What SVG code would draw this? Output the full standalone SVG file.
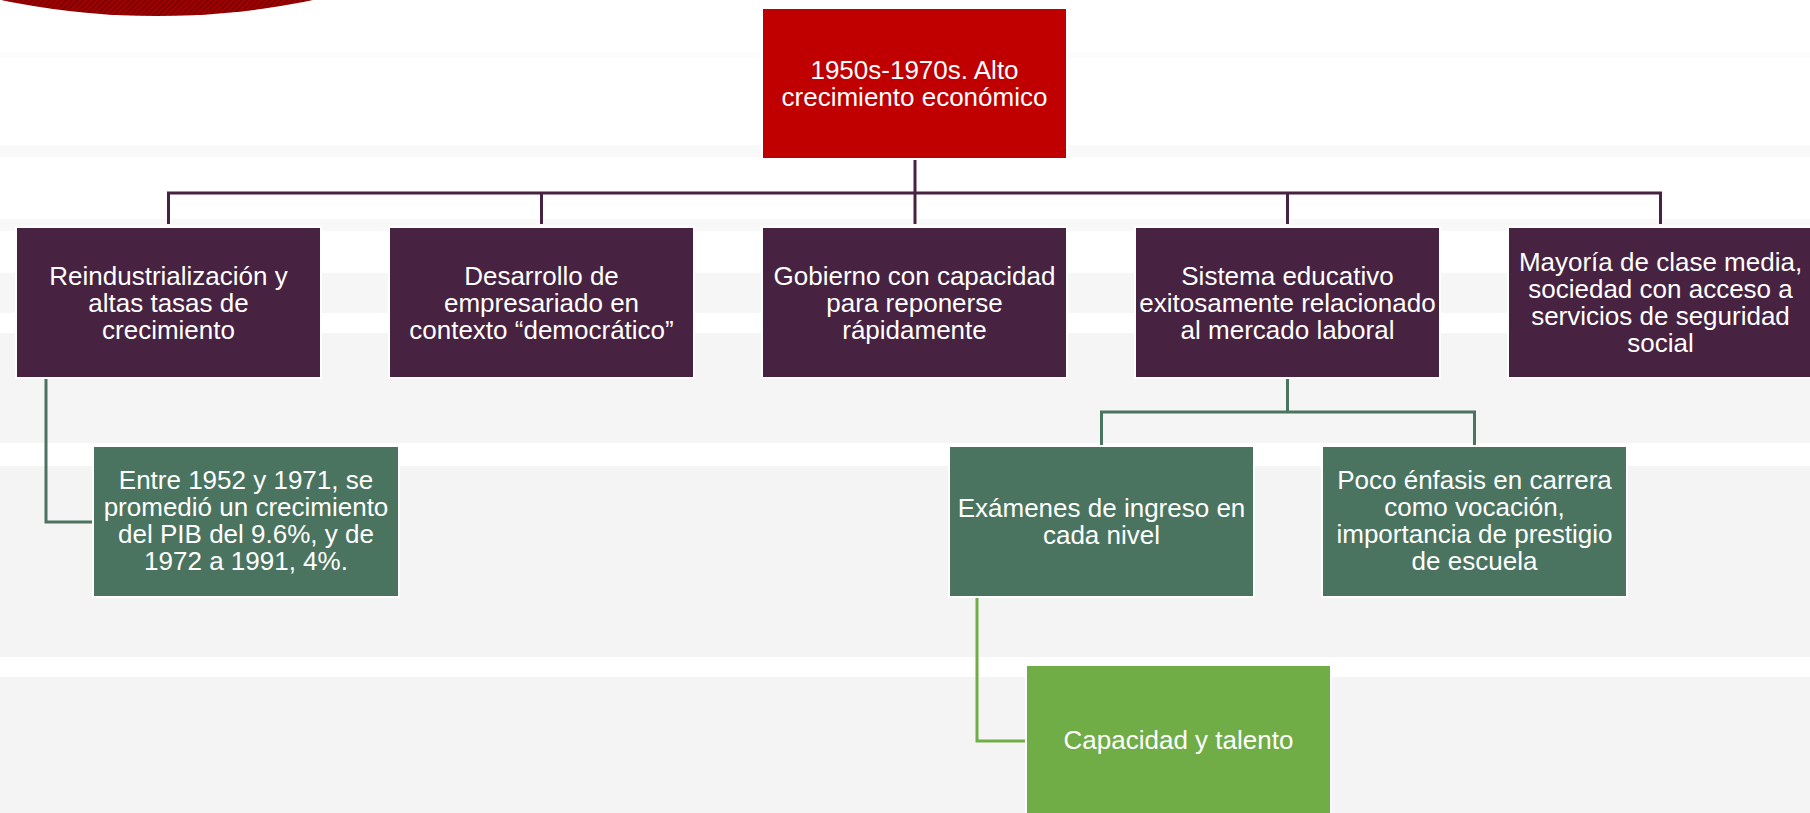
<svg xmlns="http://www.w3.org/2000/svg" width="1810" height="813" viewBox="0 0 1810 813">
<defs>
<pattern id="hatch" width="4" height="4" patternUnits="userSpaceOnUse" patternTransform="rotate(45)">
<rect width="4" height="4" fill="#7d0000"/>
<rect width="2" height="4" fill="#a50000"/>
</pattern>
<style>
.t{font-family:"Liberation Sans",Arial,sans-serif;font-size:26px;fill:#ffffff;text-anchor:middle}
.red{fill:#c00000;stroke:#ffffff;stroke-width:2}
.pur{fill:#472341;stroke:#ffffff;stroke-width:2}
.grn{fill:#4a7460;stroke:#ffffff;stroke-width:2}
.lgr{fill:#70ad47;stroke:#ffffff;stroke-width:2}
.cp{fill:none;stroke:#472341;stroke-width:3}
.cg{fill:none;stroke:#4a7460;stroke-width:3}
.cl{fill:none;stroke:#70ad47;stroke-width:3}
</style>
</defs>
<g id="background">
<rect x="0" y="0" width="1810" height="813" fill="#ffffff"/>
<rect x="0" y="53" width="1810" height="5" fill="#fcfcfc"/>
<rect x="0" y="145" width="1810" height="12" fill="#f9f9f9"/>
<rect x="0" y="219" width="1810" height="12" fill="#f8f8f8"/>
<rect x="0" y="273" width="1810" height="40" fill="#f6f6f6"/>
<rect x="0" y="333" width="1810" height="110" fill="#f5f5f5"/>
<rect x="0" y="466" width="1810" height="191" fill="#f4f4f4"/>
<rect x="0" y="677" width="1810" height="136" fill="#f4f4f4"/>
<ellipse cx="157" cy="-150" rx="364" ry="166" fill="url(#hatch)"/>
</g>
<g id="connectors">
<path class="cp" d="M915 160 V224 M168.5 224 V193 H1660.5 V224 M541.5 193 V224 M1287.5 193 V224"/>
<path class="cg" d="M46 378 V522 H93"/>
<path class="cg" d="M1287.5 378 V412 M1101.5 446 V412 H1474.5 V446"/>
<path class="cl" d="M977 597 V741 H1026"/>
</g>
<g id="n0">
<rect class="red" x="762" y="8" width="305" height="151"/>
<text class="t" x="914.5" y="79">1950s-1970s. Alto</text>
<text class="t" x="914.5" y="106">crecimiento económico</text>
</g>
<g id="n1">
<rect class="pur" x="16" y="227" width="305" height="151"/>
<text class="t" x="168.5" y="285">Reindustrialización y</text>
<text class="t" x="168.5" y="312">altas tasas de</text>
<text class="t" x="168.5" y="339">crecimiento</text>
</g>
<g id="n2">
<rect class="pur" x="389" y="227" width="305" height="151"/>
<text class="t" x="541.5" y="285">Desarrollo de</text>
<text class="t" x="541.5" y="312">empresariado en</text>
<text class="t" x="541.5" y="339">contexto “democrático”</text>
</g>
<g id="n3">
<rect class="pur" x="762" y="227" width="305" height="151"/>
<text class="t" x="914.5" y="285">Gobierno con capacidad</text>
<text class="t" x="914.5" y="312">para reponerse</text>
<text class="t" x="914.5" y="339">rápidamente</text>
</g>
<g id="n4">
<rect class="pur" x="1135" y="227" width="305" height="151"/>
<text class="t" x="1287.5" y="285">Sistema educativo</text>
<text class="t" x="1287.5" y="312">exitosamente relacionado</text>
<text class="t" x="1287.5" y="339">al mercado laboral</text>
</g>
<g id="n5">
<rect class="pur" x="1508" y="227" width="305" height="151"/>
<text class="t" x="1660.5" y="271">Mayoría de clase media,</text>
<text class="t" x="1660.5" y="298">sociedad con acceso a</text>
<text class="t" x="1660.5" y="325">servicios de seguridad</text>
<text class="t" x="1660.5" y="352">social</text>
</g>
<g id="n6">
<rect class="grn" x="93" y="446" width="306" height="151"/>
<text class="t" x="246" y="489">Entre 1952 y 1971, se</text>
<text class="t" x="246" y="516">promedió un crecimiento</text>
<text class="t" x="246" y="543">del PIB del 9.6%, y de</text>
<text class="t" x="246" y="570">1972 a 1991, 4%.</text>
</g>
<g id="n7">
<rect class="grn" x="949" y="446" width="305" height="151"/>
<text class="t" x="1101.5" y="517">Exámenes de ingreso en</text>
<text class="t" x="1101.5" y="544">cada nivel</text>
</g>
<g id="n8">
<rect class="grn" x="1322" y="446" width="305" height="151"/>
<text class="t" x="1474.5" y="489">Poco énfasis en carrera</text>
<text class="t" x="1474.5" y="516">como vocación,</text>
<text class="t" x="1474.5" y="543">importancia de prestigio</text>
<text class="t" x="1474.5" y="570">de escuela</text>
</g>
<g id="n9">
<rect class="lgr" x="1026" y="665" width="305" height="151"/>
<text class="t" x="1178.5" y="749">Capacidad y talento</text>
</g>
</svg>
